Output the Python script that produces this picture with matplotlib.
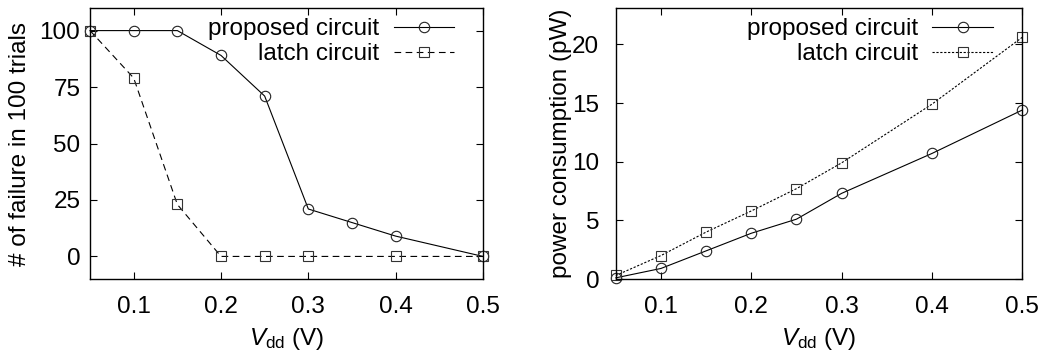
import numpy as np
import matplotlib
matplotlib.use("Agg")
import matplotlib.pyplot as plt

plt.rcParams['font.family'] = ['Liberation Sans', 'DejaVu Sans']
plt.rcParams['mathtext.fontset'] = 'custom'
plt.rcParams['mathtext.rm'] = 'Liberation Sans'
plt.rcParams['mathtext.it'] = 'Liberation Sans:italic'
plt.rcParams['font.size'] = 17.5

# failure count (left)
vdd_fail_prop = [0.05, 0.1, 0.15, 0.2, 0.25, 0.3, 0.35, 0.4, 0.5]
fail_prop = [100, 100, 100, 89, 71, 21, 15, 9, 0]
vdd_fail_latch = [0.05, 0.1, 0.15, 0.2, 0.25, 0.3, 0.4, 0.5]
fail_latch = [100, 79, 23, 0, 0, 0, 0, 0]

# power consumption (right)
vdd_pow = [0.05, 0.1, 0.15, 0.2, 0.25, 0.3, 0.4, 0.5]
pow_prop = [0.1, 0.9, 2.4, 3.9, 5.1, 7.3, 10.7, 14.4]
pow_latch = [0.3, 2.0, 4.0, 5.8, 7.7, 9.9, 14.9, 20.6]

xticks = [0.1, 0.2, 0.3, 0.4, 0.5]

fig = plt.figure(figsize=(10.42, 3.53), dpi=100)
ax1 = fig.add_axes([0.0864, 0.2096, 0.3771, 0.7677])
ax2 = fig.add_axes([0.591, 0.2096, 0.390, 0.7677])

ms = 7.5
ax1.plot(vdd_fail_prop, fail_prop, color='black', lw=0.8, marker='o', ms=ms,
         mfc='none', mec='#222222', mew=0.8, label='proposed circuit', clip_on=False)
ax1.plot(vdd_fail_latch, fail_latch, color='black', lw=0.8, ls=(0, (6, 4)), marker='s', ms=ms,
         mfc='none', mec='#333333', mew=0.8, label='latch circuit', clip_on=False)
ax1.set_xlim(0.05, 0.5)
ax1.set_ylim(-10, 110)
ax1.set_yticks([0, 25, 50, 75, 100])
ax1.set_ylabel('# of failure in 100 trials', labelpad=6)
ax1.tick_params(axis='y', pad=7)

ax2.plot(vdd_pow, pow_prop, color='black', lw=0.8, marker='o', ms=ms,
         mfc='none', mec='#222222', mew=0.8, label='proposed circuit', clip_on=False)
ax2.plot(vdd_pow, pow_latch, color='black', lw=0.8, ls=(0, (2, 1.5)), marker='s', ms=ms,
         mfc='none', mec='#333333', mew=0.8, label='latch circuit', clip_on=False)
ax2.set_xlim(0.05, 0.5)
ax2.set_ylim(0, 23.1)
ax2.set_yticks([0, 5, 10, 15, 20])
ax2.set_ylabel('power consumption (pW)', labelpad=0)
ax2.tick_params(axis='y', pad=12)

for ax in (ax1, ax2):
    ax.set_xticks(xticks)
    ax.set_xticklabels(['0.1', '0.2', '0.3', '0.4', '0.5'])
    ax.set_xlabel(r'$\mathit{V}_{\mathrm{dd}}$ (V)', labelpad=5.5)
    ax.tick_params(direction='in', top=True, right=True, length=5, width=0.8)
    ax.tick_params(axis='x', pad=12.5)
    for s in ax.spines.values():
        s.set_linewidth(1.0)
    ax.legend(loc='upper right', bbox_to_anchor=(0.958, 1.008), frameon=False,
              markerfirst=False, handlelength=2.5, handletextpad=0.6,
              labelspacing=0.13, borderaxespad=0.1)

fig.savefig('out.png', dpi=100)
